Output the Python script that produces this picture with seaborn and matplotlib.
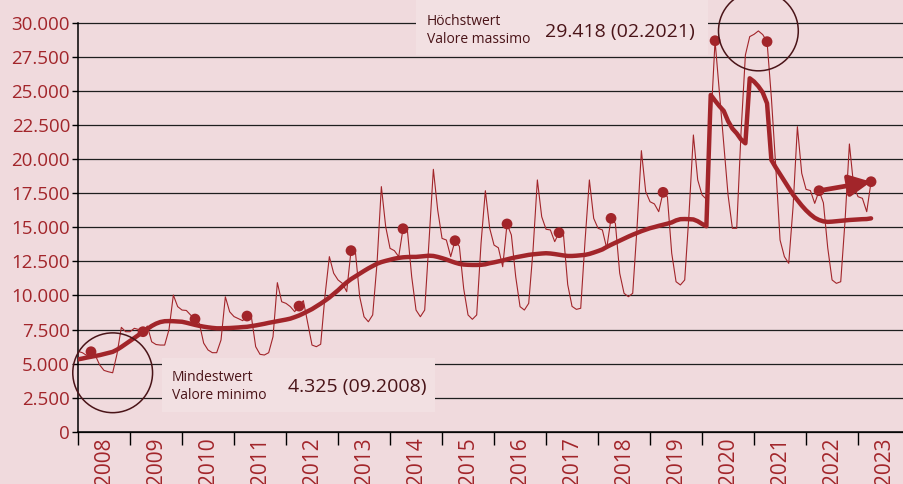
import numpy as np
import pandas as pd
import matplotlib
matplotlib.use("Agg")
import matplotlib.pyplot as plt
import matplotlib.patches as patches
import seaborn as sns

# %% data: monthly values 01.2008 - 04.2023
year_labels = [str(y) for y in range(2008, 2024)]

werte = [
    5900, 5800, 5600, 5870, 5600, 4900, 4500, 4400, 4325, 5700, 7660, 7340,          # 2008
    7340, 7590, 7500, 7340, 7760, 6600, 6400, 6360, 6360, 7500, 10030, 9180,         # 2009
    8930, 8900, 8560, 8270, 7950, 6500, 6000, 5800, 5800, 6730, 9900, 8800,          # 2010
    8450, 8300, 8150, 8490, 8450, 6240, 5680, 5630, 5800, 6970, 10940, 9540,         # 2011
    9420, 9180, 8810, 9220, 9620, 8000, 6360, 6240, 6420, 10000, 12850, 11630,       # 2012
    11140, 10890, 10280, 13290, 13230, 9910, 8440, 8070, 8570, 12360, 17990, 15050,  # 2013
    13460, 13290, 12850, 14900, 14800, 11380, 8930, 8440, 8930, 14000, 19260, 16270, # 2014
    14190, 14070, 12850, 14020, 13600, 10500, 8570, 8250, 8570, 13830, 17690, 14930, # 2015
    13700, 13500, 12110, 15250, 14440, 11380, 9180, 8930, 9420, 13340, 18480, 15780, # 2016
    14860, 14810, 13950, 14610, 14560, 10800, 9200, 8980, 9060, 14000, 18480, 15660, # 2017
    14930, 14810, 13460, 15660, 15290, 11630, 10160, 9910, 10160, 15000, 20630, 17620, # 2018
    16880, 16720, 16150, 17570, 17240, 13100, 11010, 10770, 11140, 16030, 21780, 18480, # 2019
    17380, 17060, 22500, 28700, 24930, 21140, 17380, 14930, 14930, 22000, 27650, 29000, # 2020
    29170, 29418, 29150, 28630, 24500, 19500, 14070, 12850, 12360, 16500, 22390, 18970, # 2021
    17790, 17700, 16760, 17690, 16800, 13500, 11140, 10890, 11010, 15500, 21120, 17990, # 2022
    17250, 17130, 16150, 18350,                                                        # 2023
]

trend = [
    5310, 5370, 5440, 5500, 5560, 5620, 5700, 5780, 5860, 6020, 6220, 6440,
    6660, 6880, 7110, 7330, 7540, 7760, 7930, 8050, 8110, 8120, 8110, 8090,
    8070, 8000, 7920, 7840, 7770, 7710, 7660, 7620, 7590, 7590, 7600, 7610,
    7630, 7650, 7680, 7700, 7750, 7800, 7860, 7920, 7990, 8050, 8110, 8170,
    8230, 8300, 8410, 8530, 8680, 8840, 9000, 9200, 9400, 9620, 9850, 10120,
    10380, 10680, 10960, 11200, 11400, 11600, 11800, 11990, 12160, 12330, 12450, 12540,
    12620, 12700, 12760, 12800, 12820, 12830, 12830, 12860, 12890, 12920, 12900, 12830,
    12740, 12640, 12520, 12410, 12320, 12270, 12250, 12240, 12240, 12250, 12290, 12370,
    12430, 12500, 12570, 12650, 12730, 12800, 12860, 12920, 12980, 13020, 13050, 13080,
    13100, 13080, 13040, 12990, 12940, 12900, 12900, 12920, 12950, 12980, 13050, 13150,
    13260, 13380, 13560, 13720, 13870, 14020, 14170, 14320, 14460, 14590, 14720, 14830,
    14940, 15020, 15110, 15190, 15270, 15360, 15510, 15600, 15610, 15600, 15580, 15450,
    15250, 15080, 24720, 24300, 23900, 23550, 22800, 22250, 21900, 21450, 21170, 25940,
    25700, 25350, 24900, 24100, 19940, 19400, 18900, 18400, 17900, 17400, 17000, 16600,
    16250, 15950, 15700, 15540, 15440, 15400, 15420, 15450, 15480, 15510, 15540, 15560,
    15580, 15600, 15610, 15660,
]

y_ticks = list(range(0, 30001, 2500))

min_text = ["Mindestwert\nValore minimo", "4.325 (09.2008)"]
max_text = ["Höchstwert\nValore massimo", "29.418 (02.2021)"]

# %% colours
bg = "#f0dadd"
box = "#f2e0e2"
red = "#a2252a"
dark = "#4a1418"

df = pd.DataFrame({"monat": np.arange(len(werte)), "wert": werte, "trend": trend})
april = df[df["monat"] % 12 == 3]
lo = df.loc[df["wert"].idxmin()]
hi = df.loc[df["wert"].idxmax()]

sns.set_theme(style="white")
plt.rcParams["font.family"] = ["Open Sans", "DejaVu Sans"]

fig = plt.figure(figsize=(9.04, 4.84), dpi=100, facecolor=bg)
ax = fig.add_axes([78 / 904, 52.3 / 484, 826 / 904, 408.7 / 484])
ax.set_facecolor(bg)

sns.lineplot(data=df, x="monat", y="wert", color=red, lw=0.8, ax=ax, zorder=3)
sns.lineplot(data=df, x="monat", y="trend", color=red, lw=3.2, ax=ax, zorder=3)
sns.scatterplot(data=april, x="monat", y="wert", color=red, s=60, edgecolor="none", ax=ax, zorder=4)

# arrow between the last two april points
a0, a1 = april.iloc[-2], april.iloc[-1]
ax.annotate("", xy=(a1["monat"], a1["wert"]), xytext=(a0["monat"], a0["wert"]),
            arrowprops=dict(arrowstyle="-|>,head_length=0.65,head_width=0.32", lw=3.4,
                            color=red, shrinkA=0, shrinkB=0, mutation_scale=20), zorder=5)

# circles around min and max
ax.scatter([lo["monat"], hi["monat"]], [lo["wert"], hi["wert"]], s=3300, facecolors="none",
           edgecolors=dark, linewidths=1.1, clip_on=False, zorder=5)

# label boxes
ax.add_patch(patches.Rectangle((19.3, 1450), 63.1, 3960, facecolor=box, edgecolor="none", zorder=1.5))
ax.add_patch(patches.Rectangle((78.0, 27650), 67.4, 4100, facecolor=box, edgecolor="none",
                               zorder=1.5, clip_on=False))
ax.text(21.6, 3330, min_text[0], fontsize=10, color=dark, va="center", ha="left", linespacing=1.25)
ax.text(48.4, 3300, min_text[1], fontsize=14, color=dark, va="center", ha="left")
ax.text(80.5, 29440, max_text[0], fontsize=10, color=dark, va="center", ha="left", linespacing=1.25,
        clip_on=False)
ax.text(107.8, 29340, max_text[1], fontsize=14, color=dark, va="center", ha="left", clip_on=False)

# axes
ax.set_xlim(0, 190.6)
ax.set_ylim(0, 30000)
ax.set_yticks(y_ticks)
ax.set_yticklabels([f"{v:,}".replace(",", ".") for v in y_ticks])
ax.set_xticks(range(0, 192, 12))
ax.set_xticklabels([])
ax.set_xticks(range(6, 192, 12), minor=True)
ax.set_xticklabels(year_labels, minor=True)
ax.tick_params(axis="y", length=4.5, width=1, color="black", pad=1.2, labelsize=13.5, labelcolor=red, left=True)
ax.tick_params(axis="x", which="major", length=9.6, width=1, color="black", bottom=True)
ax.tick_params(axis="x", which="minor", length=0, pad=4, labelsize=15, labelcolor=red, labelrotation=90)
ax.grid(axis="y", color="#1e1e1e", lw=0.9)
ax.set_axisbelow(True)
for gl in ax.yaxis.get_gridlines():
    gl.set_clip_on(False)
for s in ["top", "right"]:
    ax.spines[s].set_visible(False)
for s in ["left", "bottom"]:
    ax.spines[s].set_color("black")
    ax.spines[s].set_linewidth(1.1)
ax.set_xlabel("")
ax.set_ylabel("")

fig.savefig("out.png", dpi=100, facecolor=bg)
